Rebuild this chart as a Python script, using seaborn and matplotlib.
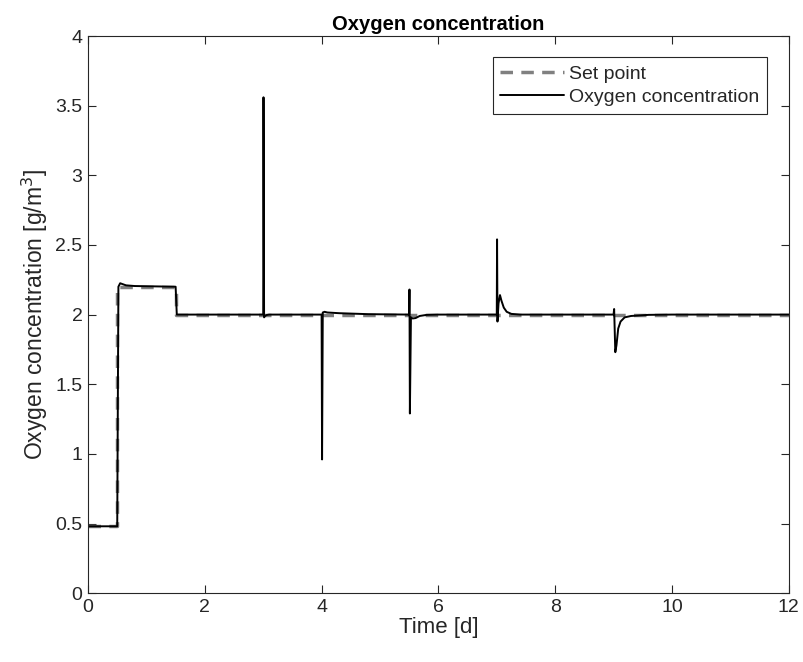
import matplotlib
matplotlib.use("Agg")
import matplotlib.pyplot as plt
import seaborn as sns
import pandas as pd
from matplotlib.ticker import FuncFormatter, FixedLocator

sns.set_theme(style="white")
plt.rcParams['font.family'] = ['Liberation Sans', 'DejaVu Sans']

# Set point
sp_time = [0, 0.5, 0.5, 1.5, 1.5, 12]
sp_value = [0.48, 0.48, 2.2, 2.2, 2.0, 2.0]

# Measured oxygen concentration
ox_time = [0, 0.5, 0.52, 0.55, 0.65, 0.8, 1.5, 1.52,
           3.0, 3.005, 3.015, 3.03, 3.06, 3.1,
           4.0, 4.008, 4.02, 4.05, 4.1, 4.3, 4.8,
           5.5, 5.505, 5.512, 5.53, 5.56, 5.61, 5.68, 5.8, 6.0,
           7.0, 7.005, 7.012, 7.03, 7.055, 7.08, 7.12, 7.17, 7.25, 7.4,
           9.0, 9.01, 9.03, 9.05, 9.08, 9.12, 9.19, 9.3, 9.6, 10.0, 12.0]
ox_value = [0.48, 0.48, 2.2, 2.225, 2.21, 2.205, 2.2, 2.0,
            2.0, 3.56, 1.98, 1.99, 1.997, 2.0,
            2.0, 0.96, 2.015, 2.02, 2.015, 2.01, 2.003,
            2.0, 2.18, 1.29, 1.98, 1.972, 1.975, 1.99, 1.998, 2.0,
            2.0, 2.54, 1.95, 2.08, 2.14, 2.10, 2.05, 2.02, 2.005, 2.0,
            2.0, 2.04, 1.73, 1.78, 1.9, 1.95, 1.98, 1.99, 1.998, 2.0, 2.0]

x_ticks = [0, 2, 4, 6, 8, 10, 12]
y_ticks = [0, 0.5, 1, 1.5, 2, 2.5, 3, 3.5, 4]

sp_df = pd.DataFrame({"t": sp_time, "v": sp_value})
ox_df = pd.DataFrame({"t": ox_time, "v": ox_value})

fig = plt.figure(figsize=(8.04, 6.62), dpi=100)
ax = fig.add_axes([0.1095, 0.104, 0.8715, 0.8416])

axcol = "#262626"
sns.lineplot(data=sp_df, x="t", y="v", ax=ax, estimator=None, sort=False,
             color="#808080", linewidth=2.5, dashes=False, label="Set point")
ax.lines[-1].set_dashes((3.6, 2.4))
sns.lineplot(data=ox_df, x="t", y="v", ax=ax, estimator=None, sort=False,
             color="black", linewidth=1.4, label="Oxygen concentration")

ax.set_xlim(0, 12)
ax.set_ylim(0, 4)
ax.xaxis.set_major_locator(FixedLocator(x_ticks))
ax.yaxis.set_major_locator(FixedLocator(y_ticks))
fmt = FuncFormatter(lambda v, p: ("%g" % v))
ax.xaxis.set_major_formatter(fmt)
ax.yaxis.set_major_formatter(fmt)

ax.tick_params(direction="in", length=6, width=0.8, colors=axcol,
               labelsize=14, top=True, right=True, bottom=True, left=True,
               labelcolor=axcol, pad=4)
for s in ax.spines.values():
    s.set_color(axcol)
    s.set_linewidth(0.8)
    s.set_visible(True)

ax.set_xlabel("Time [d]", fontsize=16, color=axcol, labelpad=1)
ax.set_ylabel("Oxygen concentration [g/m$^3$]", fontsize=16.5, color=axcol, labelpad=4)
ax.set_title("Oxygen concentration", fontsize=14.5, fontweight="bold", color="black", pad=4)

leg = ax.legend(loc="upper right", fontsize=14, frameon=True, fancybox=False,
                edgecolor=axcol, framealpha=1, borderpad=0.4, handlelength=3.3,
                handletextpad=0.25, labelspacing=0.3, borderaxespad=1.1)
leg.get_frame().set_linewidth(0.8)

fig.savefig("out.png", dpi=100, facecolor="white")
